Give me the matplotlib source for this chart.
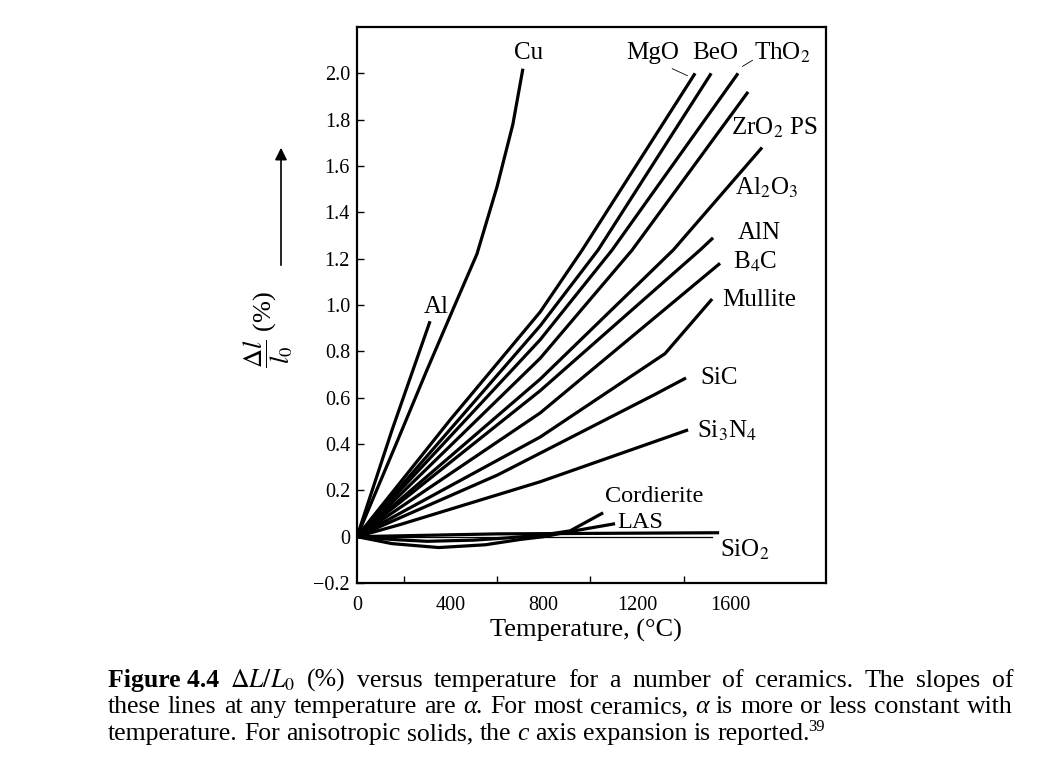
import matplotlib
matplotlib.use("Agg")
import matplotlib.pyplot as plt

plt.rcParams['font.family'] = ['Liberation Serif', 'DejaVu Serif']
plt.rcParams['mathtext.fontset'] = 'stix'

# ---------------- data (temperature in °C, ΔL/L0 in %) ----------------
al_T = [0, 150, 313]
al_L = [0, 0.46, 0.93]
cu_T = [0, 176, 300, 428, 514, 600, 668, 711]
cu_L = [0, 0.42, 0.72, 1.02, 1.22, 1.51, 1.78, 2.02]
mgo_T = [0, 399, 785, 965, 1449]
mgo_L = [0, 0.504, 0.97, 1.237, 2.0]
beo_T = [0, 785, 1033, 1518]
beo_L = [0, 0.91, 1.237, 2.0]
tho2_T = [0, 785, 1093, 1633]
tho2_L = [0, 0.85, 1.237, 2.0]
zro2_T = [0, 785, 1179, 1676]
zro2_L = [0, 0.77, 1.237, 1.92]
al2o3_T = [0, 785, 1355, 1736]
al2o3_L = [0, 0.68, 1.237, 1.68]
aln_T = [0, 785, 1470, 1526]
aln_L = [0, 0.63, 1.237, 1.29]
b4c_T = [0, 785, 1556]
b4c_L = [0, 0.534, 1.18]
mullite_T = [0, 785, 1320, 1522]
mullite_L = [0, 0.43, 0.79, 1.026]
sic_T = [0, 604, 1273, 1410]
sic_L = [0, 0.267, 0.612, 0.685]
si3n4_T = [0, 184, 785, 1419]
si3n4_L = [0, 0.052, 0.237, 0.461]
cord_T = [0, 150, 300, 500, 650, 800, 913, 1055]
cord_L = [0, -0.012, -0.02, -0.015, -0.005, 0.008, 0.025, 0.103]
las_T = [0, 150, 350, 550, 700, 800, 913, 1106]
las_L = [0, -0.03, -0.047, -0.035, -0.012, 0.0, 0.022, 0.056]
sio2_T = [0, 600, 1552]
sio2_L = [0, 0.012, 0.017]
zero_T = [0, 1522]
zero_L = [0, 0]

xtick_vals = [0, 400, 800, 1200, 1600]
xtick_labels = ['0', '400', '800', '1200', '1600']
xminor_vals = [200, 600, 1000, 1400]
ytick_vals = [-0.2, 0, 0.2, 0.4, 0.6, 0.8, 1.0, 1.2, 1.4, 1.6, 1.8, 2.0]
ytick_labels = ['\u22120.2', '0', '0.2', '0.4', '0.6', '0.8', '1.0', '1.2',
                '1.4', '1.6', '1.8', '2.0']

# label texts and anchor positions (data coords)
labels = [
    ('Cu', 734, 2.088, 'center', 18),
    ('Al', 339, 0.99, 'center', 18),
    ('MgO', 1266, 2.088, 'center', 18),
    ('BeO', 1536, 2.088, 'center', 18),
    ('ThO$_2$', 1823, 2.088, 'center', 18),
    ('ZrO$_2$ PS', 1604, 1.764, 'left', 18),
    ('Al$_2$O$_3$', 1622, 1.505, 'left', 18),
    ('AlN', 1630, 1.31, 'left', 18),
    ('B$_4$C', 1613, 1.185, 'left', 18),
    ('Mullite', 1566, 1.021, 'left', 18),
    ('SiC', 1471, 0.685, 'left', 18),
    ('Si$_3$N$_4$', 1459, 0.456, 'left', 18),
    ('Cordierite', 1065, 0.172, 'left', 17.5),
    ('LAS', 1117, 0.062, 'left', 17.5),
    ('SiO$_2$', 1557, -0.058, 'left', 18),
]

BOLD = dict(fontweight='bold')
ITAL = dict(fontstyle='italic')
caption_line1 = [('Figure 4.4', BOLD), (r'$\Delta L/L_0$', {})] + \
    [(w, {}) for w in '(%) versus temperature for a number of ceramics. The slopes of'.split()]
caption_line2 = [(w, {}) for w in 'these lines at any temperature are'.split()] + \
    [('\u03b1.', ITAL)] + [(w, {}) for w in 'For most ceramics,'.split()] + \
    [('\u03b1', ITAL)] + [(w, {}) for w in 'is more or less constant with'.split()]
caption_line3 = [(w, {}) for w in 'temperature. For anisotropic solids, the'.split()] + \
    [('c', ITAL)] + [(w, {}) for w in 'axis expansion is reported.'.split()]
caption_sup = '39'

W, H = 1039, 769
fig = plt.figure(figsize=(W / 100, H / 100), dpi=100)
ax = fig.add_axes([357 / W, 1 - 583 / H, (826 - 357) / W, (583 - 27) / H])
ax.set_xlim(0, 2010)
ax.set_ylim(-0.2, 2.2)

thick = dict(color='black', lw=2.3, solid_capstyle='butt', solid_joinstyle='round')
for T, L in [(al_T, al_L), (cu_T, cu_L), (mgo_T, mgo_L), (beo_T, beo_L),
             (tho2_T, tho2_L), (zro2_T, zro2_L), (al2o3_T, al2o3_L),
             (aln_T, aln_L), (b4c_T, b4c_L), (mullite_T, mullite_L),
             (sic_T, sic_L), (si3n4_T, si3n4_L), (cord_T, cord_L),
             (las_T, las_L), (sio2_T, sio2_L)]:
    ax.plot(T, L, **thick)
ax.plot(zero_T, zero_L, color='black', lw=0.9)

# leader lines
ax.plot([1351, 1416], [2.02, 1.99], color='black', lw=0.6)
ax.plot([1652, 1695], [2.03, 2.056], color='black', lw=0.6)

for s, x, y, ha, fs in labels:
    ax.text(x, y, s, fontsize=fs, ha=ha, va='center')

ax.set_xticks(xtick_vals)
ax.set_xticklabels(xtick_labels)
ax.set_xticks(xminor_vals, minor=True)
ax.set_yticks(ytick_vals)
ax.set_yticklabels(ytick_labels)
ax.tick_params(direction='in', length=5, width=1, labelsize=14.5, top=False, right=False)
ax.tick_params(axis='x', which='major', length=0, pad=9)
ax.tick_params(axis='x', which='minor', direction='in', length=5, width=1)
ax.tick_params(axis='y', pad=5)
for sp in ax.spines.values():
    sp.set_linewidth(1.6)

fig.text(586 / W, 1 - 630 / H, 'Temperature, (\u00b0C)', fontsize=19, ha='center', va='center')
fig.text(268 / W, 1 - 330 / H, r'$\dfrac{\Delta l}{l_0}$ (%)', rotation=90, fontsize=19,
         ha='center', va='center')
ax.annotate('', xy=(281, H - 145), xytext=(281, H - 268), xycoords='figure pixels',
            textcoords='figure pixels',
            arrowprops=dict(arrowstyle='-|>', lw=1.2, color='black', mutation_scale=18))

# caption: one text per word, justified
cap_fs = 18.5
renderer = fig.canvas.get_renderer()


def put_line(tokens, base_px, justify=True):
    objs = []
    for s, kw in tokens:
        objs.append(fig.text(0, 1 - base_px / H, s, fontsize=cap_fs, va='baseline', **kw))
    ws = [o.get_window_extent(renderer).width for o in objs]
    if justify:
        gap = (1013 - 108 - sum(ws)) / (len(objs) - 1)
    else:
        gap = 6.4
    x = 108
    for o, w in zip(objs, ws):
        o.set_x(x / W)
        x += w + gap
    return x - gap


put_line(caption_line1, 687)
put_line(caption_line2, 713)
x_end = put_line(caption_line3, 740, justify=False)
fig.text((x_end - 2) / W, 1 - 731 / H, caption_sup, fontsize=12, va='baseline')

fig.savefig('out.png', dpi=100)
